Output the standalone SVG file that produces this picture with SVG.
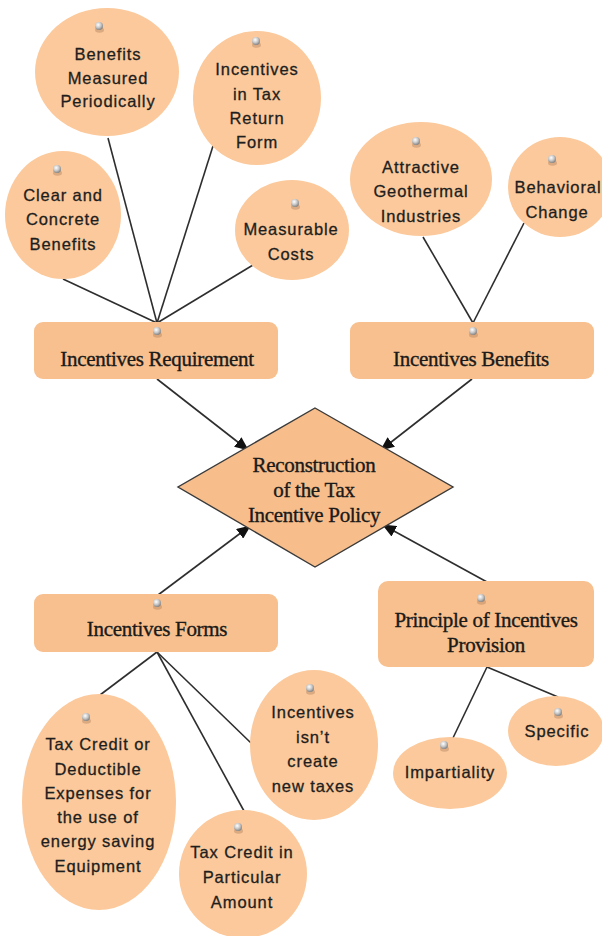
<svg xmlns="http://www.w3.org/2000/svg" width="602" height="936" viewBox="0 0 602 936">
  <style>
    .bubble { fill: #FBC99B; }
    .box { fill: #F8C08E; }
    .diamond { fill: #F7BE8C; stroke: #3a3a3a; stroke-width: 1.4; }
    .sans { font-family: "Liberation Sans", Arial, sans-serif; font-size: 16.5px; letter-spacing: 0.9px; fill: #1e1e1e; stroke: #1e1e1e; stroke-width: 0.3; text-anchor: middle; }
    .serif { font-family: "Liberation Serif", "Times New Roman", serif; font-size: 21px; fill: #1a1a1a; stroke: #1a1a1a; stroke-width: 0.35; text-anchor: middle; letter-spacing: -0.3px; }
    .link { stroke: #2e2e2e; stroke-width: 1.6; fill: none; }
    .arrow { stroke: #2e2e2e; stroke-width: 1.6; fill: none; marker-end: url(#head); }
  </style>
  <defs>
    <marker id="head" markerUnits="userSpaceOnUse" markerWidth="14" markerHeight="12" refX="13" refY="6" orient="auto">
      <path d="M0,0 L14,6 L0,12 z" fill="#111"/>
    </marker>
    <radialGradient id="pinGrad" cx="0.4" cy="0.35" r="0.7">
      <stop offset="0" stop-color="#ffffff"/>
      <stop offset="0.5" stop-color="#c8c8c8"/>
      <stop offset="1" stop-color="#7a7a7a"/>
    </radialGradient>
    <g id="pin">
      <ellipse cx="0.5" cy="4" rx="4.5" ry="2.8" fill="#a07050" opacity="0.35"/>
      <circle cx="0" cy="0" r="4" fill="url(#pinGrad)"/>
    </g>
  </defs>

  <!-- connectors -->
  <g id="connectors">
    <line class="link" x1="157" y1="323" x2="108" y2="138"/>
    <line class="link" x1="157" y1="323" x2="213" y2="146"/>
    <line class="link" x1="157" y1="323" x2="63" y2="279"/>
    <line class="link" x1="157" y1="323" x2="253" y2="265"/>
    <line class="link" x1="473" y1="323" x2="423" y2="237"/>
    <line class="link" x1="473" y1="323" x2="524" y2="223"/>
    <line class="arrow" x1="157" y1="379" x2="248" y2="450"/>
    <line class="arrow" x1="472" y1="379" x2="381" y2="450"/>
    <line class="arrow" x1="158" y1="595" x2="250" y2="526"/>
    <line class="arrow" x1="487" y1="582" x2="383" y2="525"/>
    <line class="link" x1="157" y1="652" x2="100" y2="695"/>
    <line class="link" x1="157" y1="652" x2="244" y2="811"/>
    <line class="link" x1="157" y1="652" x2="251" y2="743"/>
    <line class="link" x1="487" y1="667" x2="452" y2="740"/>
    <line class="link" x1="487" y1="667" x2="558" y2="697"/>
  </g>

  <!-- upper-left bubbles -->
  <g id="benefits-measured">
    <ellipse class="bubble" cx="107" cy="72" rx="72" ry="64"/>
    <use href="#pin" x="99" y="26"/>
    <text class="sans" x="108" y="60">Benefits</text>
    <text class="sans" x="108" y="84">Measured</text>
    <text class="sans" x="108" y="107">Periodically</text>
  </g>
  <g id="incentives-tax-return">
    <ellipse class="bubble" cx="257" cy="98" rx="64" ry="67"/>
    <use href="#pin" x="256" y="41"/>
    <text class="sans" x="257" y="75">Incentives</text>
    <text class="sans" x="257" y="100">in Tax</text>
    <text class="sans" x="257" y="124">Return</text>
    <text class="sans" x="257" y="148">Form</text>
  </g>
  <g id="clear-concrete">
    <ellipse class="bubble" cx="63" cy="215" rx="58" ry="64"/>
    <use href="#pin" x="57" y="169"/>
    <text class="sans" x="63" y="201">Clear and</text>
    <text class="sans" x="63" y="225">Concrete</text>
    <text class="sans" x="63" y="250">Benefits</text>
  </g>
  <g id="measurable-costs">
    <ellipse class="bubble" cx="292" cy="230" rx="57" ry="50"/>
    <use href="#pin" x="295" y="203"/>
    <text class="sans" x="291" y="235">Measurable</text>
    <text class="sans" x="291" y="260">Costs</text>
  </g>

  <!-- upper-right bubbles -->
  <g id="attractive-geothermal">
    <ellipse class="bubble" cx="421" cy="179" rx="71" ry="57"/>
    <use href="#pin" x="416" y="141"/>
    <text class="sans" x="421" y="173">Attractive</text>
    <text class="sans" x="421" y="197">Geothermal</text>
    <text class="sans" x="421" y="222">Industries</text>
  </g>
  <g id="behavioral-change">
    <ellipse class="bubble" cx="560" cy="187" rx="52" ry="50"/>
    <use href="#pin" x="552" y="159"/>
    <text class="sans" x="558" y="193">Behavioral</text>
    <text class="sans" x="557" y="218">Change</text>
  </g>

  <!-- category boxes -->
  <g id="incentives-requirement">
    <rect class="box" x="34" y="322" width="244" height="57" rx="9"/>
    <use href="#pin" x="157" y="331"/>
    <text class="serif" x="157" y="366">Incentives Requirement</text>
  </g>
  <g id="incentives-benefits">
    <rect class="box" x="350" y="322" width="244" height="57" rx="9"/>
    <use href="#pin" x="473" y="331"/>
    <text class="serif" x="471" y="366">Incentives Benefits</text>
  </g>

  <!-- central decision -->
  <g id="reconstruction">
    <polygon class="diamond" points="315,408 453,487 315,567 178,487"/>
    <text class="serif" x="314" y="472">Reconstruction</text>
    <text class="serif" x="314" y="497">of the Tax</text>
    <text class="serif" x="314" y="522">Incentive Policy</text>
  </g>

  <g id="incentives-forms">
    <rect class="box" x="34" y="594" width="244" height="58" rx="9"/>
    <use href="#pin" x="157" y="603"/>
    <text class="serif" x="157" y="636">Incentives Forms</text>
  </g>
  <g id="principle-provision">
    <rect class="box" x="378" y="581" width="216" height="86" rx="10"/>
    <use href="#pin" x="481" y="598"/>
    <text class="serif" x="486" y="627">Principle of Incentives</text>
    <text class="serif" x="486" y="652">Provision</text>
  </g>

  <!-- lower bubbles -->
  <g id="tax-credit-deductible">
    <ellipse class="bubble" cx="99" cy="802" rx="77" ry="108"/>
    <use href="#pin" x="86" y="717"/>
    <text class="sans" x="98" y="750">Tax Credit or</text>
    <text class="sans" x="98" y="775">Deductible</text>
    <text class="sans" x="98" y="799">Expenses for</text>
    <text class="sans" x="98" y="823">the use of</text>
    <text class="sans" x="98" y="847">energy saving</text>
    <text class="sans" x="98" y="872">Equipment</text>
  </g>
  <g id="tax-credit-amount">
    <ellipse class="bubble" cx="243" cy="874" rx="64" ry="64"/>
    <use href="#pin" x="238" y="827"/>
    <text class="sans" x="242" y="858">Tax Credit in</text>
    <text class="sans" x="242" y="883">Particular</text>
    <text class="sans" x="242" y="908">Amount</text>
  </g>
  <g id="no-new-taxes">
    <ellipse class="bubble" cx="314" cy="745" rx="64" ry="75"/>
    <use href="#pin" x="310" y="688"/>
    <text class="sans" x="313" y="718">Incentives</text>
    <text class="sans" x="313" y="743">isn’t</text>
    <text class="sans" x="313" y="767">create</text>
    <text class="sans" x="313" y="792">new taxes</text>
  </g>
  <g id="impartiality">
    <ellipse class="bubble" cx="450" cy="773" rx="57" ry="36"/>
    <use href="#pin" x="444" y="745"/>
    <text class="sans" x="450" y="778">Impartiality</text>
  </g>
  <g id="specific">
    <ellipse class="bubble" cx="556" cy="731" rx="48" ry="35"/>
    <use href="#pin" x="558" y="712"/>
    <text class="sans" x="557" y="737">Specific</text>
  </g>
</svg>
